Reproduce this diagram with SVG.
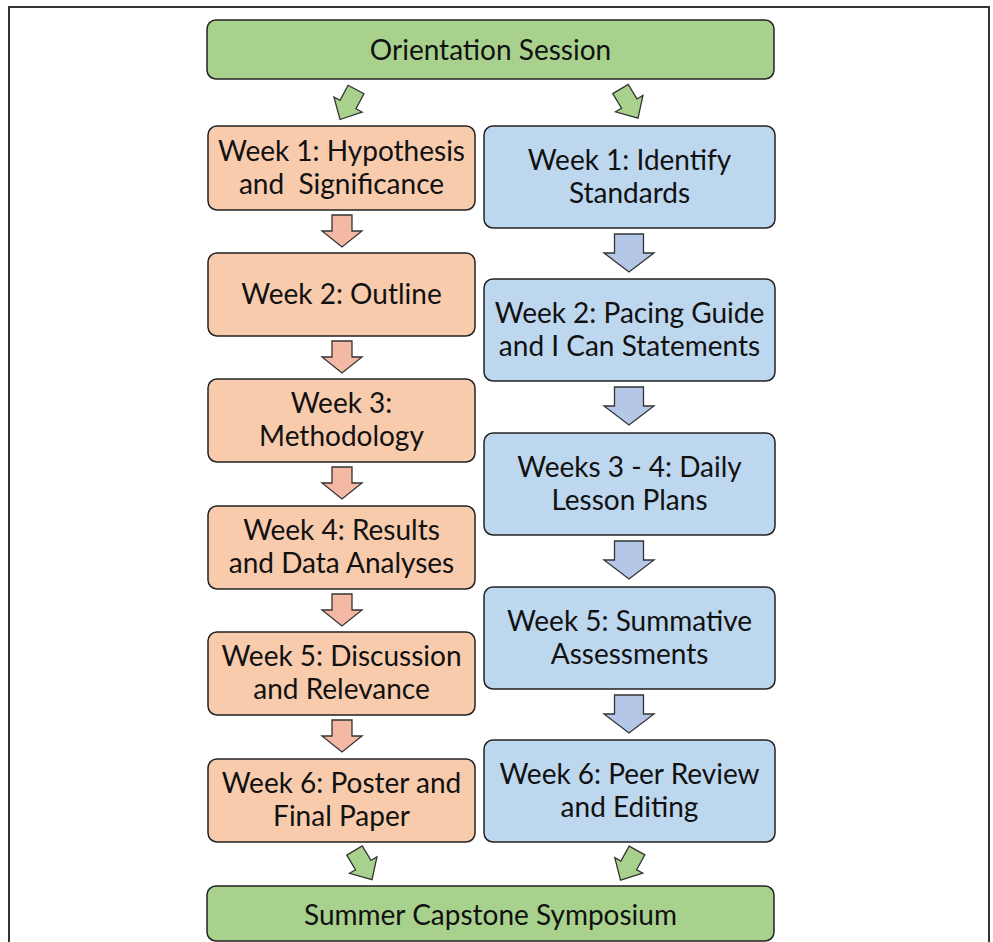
<svg xmlns="http://www.w3.org/2000/svg" xmlns:xlink="http://www.w3.org/1999/xlink" width="993" height="942" viewBox="0 0 993 942">
<style>
.box{stroke:#222;stroke-width:1.5}
.g{fill:#a9d18e}
.o{fill:#f8cbad}
.b{fill:#bdd7ee}
.t{font-family:Lato,"Liberation Sans",sans-serif;font-size:28px;fill:#111;text-anchor:middle}
.ar{stroke:#333;stroke-width:1.3;stroke-linejoin:miter}
</style>
<defs>
<polygon id="la" points="-10,0 10,0 10,16 20,16 0,32 -20,16 -10,16" fill="#f4b9a4"/>
<polygon id="ra" points="-14.5,0 14.5,0 14.5,19 25,19 0,38 -25,19 -14.5,19" fill="#b4c7e7"/>
<polygon id="ga" points="-9,0 9,0 9,17 16,17 0,34 -16,17 -9,17" fill="#a9d18e"/>
</defs>
<rect x="0" y="0" width="993" height="942" fill="#fff"/>
<rect x="9" y="7" width="980" height="960" fill="none" stroke="#333" stroke-width="2"/>

<g id="orientation">
<rect class="box g" x="207" y="20" width="567" height="59" rx="9"/>
<text class="t" x="490.5" y="59.5">Orientation Session</text>
</g>

<g id="l1"><rect class="box o" x="208" y="126" width="267" height="84" rx="9"/>
<text class="t" x="341.5" y="160.5" xml:space="preserve">Week 1: Hypothesis</text>
<text class="t" x="341.5" y="193.5" xml:space="preserve">and  Significance</text></g>
<g id="l2"><rect class="box o" x="208" y="253" width="267" height="83" rx="9"/>
<text class="t" x="341.5" y="303.5">Week 2: Outline</text></g>
<g id="l3"><rect class="box o" x="208" y="379" width="267" height="83" rx="9"/>
<text class="t" x="341.5" y="413">Week 3:</text>
<text class="t" x="341.5" y="446">Methodology</text></g>
<g id="l4"><rect class="box o" x="208" y="506" width="267" height="83" rx="9"/>
<text class="t" x="341.5" y="540">Week 4: Results</text>
<text class="t" x="341.5" y="573">and Data Analyses</text></g>
<g id="l5"><rect class="box o" x="208" y="632" width="267" height="83" rx="9"/>
<text class="t" x="341.5" y="666">Week 5: Discussion</text>
<text class="t" x="341.5" y="699">and Relevance</text></g>
<g id="l6"><rect class="box o" x="208" y="759" width="267" height="83" rx="9"/>
<text class="t" x="341.5" y="793">Week 6: Poster and</text>
<text class="t" x="341.5" y="826">Final Paper</text></g>

<g id="r1"><rect class="box b" x="484" y="126" width="291" height="102" rx="9"/>
<text class="t" x="629.5" y="169.5">Week 1: Identify</text>
<text class="t" x="629.5" y="202.5">Standards</text></g>
<g id="r2"><rect class="box b" x="484" y="279" width="291" height="102" rx="9"/>
<text class="t" x="629.5" y="322.5">Week 2: Pacing Guide</text>
<text class="t" x="629.5" y="355.5">and I Can Statements</text></g>
<g id="r3"><rect class="box b" x="484" y="433" width="291" height="102" rx="9"/>
<text class="t" x="629.5" y="476.5">Weeks 3 - 4: Daily</text>
<text class="t" x="629.5" y="509.5">Lesson Plans</text></g>
<g id="r4"><rect class="box b" x="484" y="587" width="291" height="102" rx="9"/>
<text class="t" x="629.5" y="630.5">Week 5: Summative</text>
<text class="t" x="629.5" y="663.5">Assessments</text></g>
<g id="r5"><rect class="box b" x="484" y="740" width="291" height="102" rx="9"/>
<text class="t" x="629.5" y="783.5">Week 6: Peer Review</text>
<text class="t" x="629.5" y="816.5">and Editing</text></g>

<g id="symposium">
<rect class="box g" x="207" y="886" width="567" height="55" rx="9"/>
<text class="t" x="490.5" y="925">Summer Capstone Symposium</text>
</g>

<g id="connectors" class="ar">
<use xlink:href="#ga" transform="translate(356,89.5) rotate(28)"/>
<use xlink:href="#ga" transform="translate(620.5,89) rotate(-31)"/>
<use xlink:href="#la" transform="translate(342,215)"/>
<use xlink:href="#la" transform="translate(342,341)"/>
<use xlink:href="#la" transform="translate(342,467)"/>
<use xlink:href="#la" transform="translate(342,594)"/>
<use xlink:href="#la" transform="translate(342,720)"/>
<use xlink:href="#ra" transform="translate(629,234)"/>
<use xlink:href="#ra" transform="translate(629,387)"/>
<use xlink:href="#ra" transform="translate(629,541)"/>
<use xlink:href="#ra" transform="translate(629,695)"/>
<use xlink:href="#ga" transform="translate(354.5,850.5) rotate(-31)"/>
<use xlink:href="#ga" transform="translate(637,850.5) rotate(29)"/>
</g>
</svg>
